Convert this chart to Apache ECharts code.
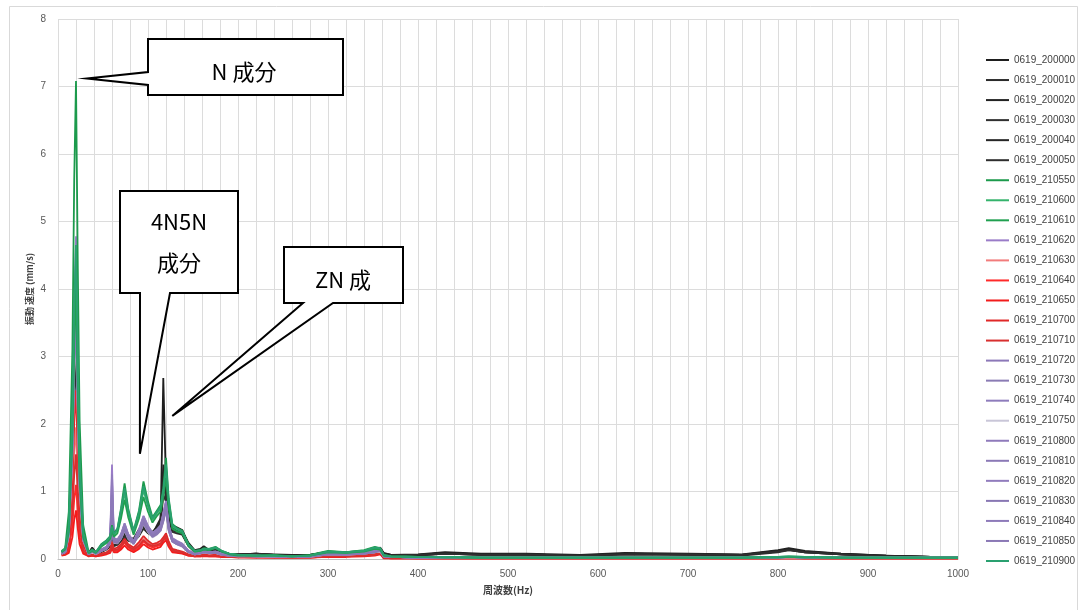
<!DOCTYPE html>
<html>
<head>
<meta charset="utf-8">
<script src="https://cdn.jsdelivr.net/npm/echarts@6/dist/echarts.min.js"></script>
<style>
html,body{margin:0;padding:0;background:#fff;}
#chart{width:1082px;height:610px;}
</style>
</head>
<body>
<div id="chart"></div>
<script>
// Frequency sample points (Hz) shared by every spectrum
const freqHz = [
  4, 8, 12, 16, 18, 20, 22, 24, 28, 34,
  38, 42, 48, 54, 58, 60, 62, 66, 70, 74,
  78, 84, 90, 95, 100, 105, 110, 114, 117, 120,
  123, 127, 132, 138, 145, 152, 158, 162, 168, 175,
  182, 190, 200, 220, 240, 260, 280, 300, 320, 340,
  352, 358, 362, 370, 400, 430, 470, 520, 580, 630,
  700, 760, 800, 812, 830, 870, 920, 970, 1000
];

// Vibration velocity (mm/s) for each measurement
const s200000 = [
  0.10,0.13,0.35,1.55,2.76,3.45,2.14,1.04,0.28,0.08,
  0.16,0.09,0.12,0.16,0.20,0.32,0.22,0.25,0.30,0.38,
  0.30,0.28,0.40,0.52,0.42,0.38,0.45,0.55,2.68,1.10,
  0.55,0.45,0.42,0.38,0.22,0.12,0.14,0.18,0.12,0.14,
  0.10,0.08,0.07,0.08,0.06,0.05,0.06,0.10,0.09,0.11,
  0.13,0.16,0.08,0.06,0.06,0.09,0.07,0.07,0.05,0.08,
  0.07,0.06,0.12,0.15,0.11,0.08,0.05,0.03,0.03];
const s200010 = [
  0.09,0.12,0.32,1.44,2.56,3.20,1.98,0.96,0.26,0.07,
  0.14,0.08,0.11,0.15,0.22,0.35,0.20,0.22,0.28,0.34,
  0.28,0.26,0.36,0.48,0.40,0.36,0.50,0.60,1.25,0.95,
  0.60,0.48,0.44,0.40,0.20,0.11,0.13,0.17,0.11,0.13,
  0.09,0.07,0.06,0.07,0.05,0.05,0.05,0.09,0.08,0.10,
  0.12,0.15,0.07,0.05,0.05,0.08,0.06,0.06,0.05,0.07,
  0.06,0.06,0.11,0.14,0.10,0.07,0.04,0.03,0.03];
const s200020 = [
  0.11,0.14,0.36,1.62,2.88,3.60,2.23,1.08,0.29,0.09,
  0.17,0.10,0.13,0.17,0.24,0.40,0.24,0.27,0.33,0.42,
  0.33,0.30,0.44,0.56,0.45,0.40,0.48,0.52,1.05,1.20,
  0.58,0.44,0.46,0.42,0.24,0.13,0.15,0.19,0.13,0.15,
  0.11,0.08,0.07,0.08,0.07,0.06,0.06,0.11,0.10,0.12,
  0.14,0.17,0.09,0.06,0.07,0.10,0.08,0.08,0.06,0.09,
  0.08,0.07,0.13,0.16,0.12,0.08,0.05,0.03,0.03];
const s200030 = [
  0.08,0.11,0.30,1.33,2.36,2.95,1.83,0.89,0.24,0.07,
  0.13,0.08,0.10,0.14,0.18,0.28,0.19,0.21,0.26,0.31,
  0.27,0.25,0.34,0.45,0.38,0.34,0.42,0.50,0.95,0.85,
  0.50,0.40,0.38,0.36,0.19,0.10,0.12,0.16,0.10,0.12,
  0.09,0.07,0.06,0.07,0.05,0.04,0.05,0.09,0.08,0.10,
  0.12,0.14,0.07,0.05,0.05,0.08,0.06,0.06,0.04,0.07,
  0.06,0.05,0.10,0.13,0.10,0.07,0.04,0.03,0.02];
const s200040 = [
  0.10,0.13,0.33,1.49,2.64,3.30,2.05,0.99,0.26,0.08,
  0.15,0.09,0.12,0.16,0.21,0.34,0.21,0.24,0.29,0.36,
  0.29,0.27,0.38,0.50,0.41,0.37,0.46,0.58,1.40,1.00,
  0.62,0.50,0.47,0.43,0.21,0.12,0.14,0.17,0.12,0.13,
  0.10,0.08,0.07,0.07,0.06,0.05,0.06,0.10,0.09,0.11,
  0.13,0.15,0.08,0.06,0.06,0.09,0.07,0.07,0.05,0.08,
  0.07,0.06,0.12,0.14,0.11,0.07,0.05,0.03,0.03];
const s200050 = [
  0.09,0.12,0.32,1.42,2.52,3.15,1.95,0.95,0.25,0.08,
  0.15,0.09,0.11,0.15,0.20,0.30,0.21,0.23,0.28,0.35,
  0.28,0.27,0.37,0.47,0.39,0.35,0.44,0.54,1.15,0.90,
  0.52,0.42,0.40,0.37,0.20,0.11,0.13,0.16,0.11,0.13,
  0.09,0.07,0.06,0.08,0.06,0.05,0.05,0.10,0.09,0.10,
  0.12,0.15,0.07,0.05,0.06,0.08,0.06,0.07,0.05,0.07,
  0.07,0.06,0.11,0.13,0.10,0.07,0.04,0.03,0.03];
const s210550 = [
  0.12,0.16,0.70,3.10,5.60,7.08,4.30,2.05,0.50,0.10,
  0.14,0.10,0.22,0.28,0.34,0.50,0.38,0.45,0.75,1.12,
  0.75,0.42,0.72,1.15,0.85,0.62,0.72,0.80,1.05,1.50,
  0.90,0.52,0.46,0.42,0.22,0.12,0.13,0.16,0.15,0.18,
  0.12,0.08,0.06,0.05,0.06,0.04,0.06,0.12,0.10,0.13,
  0.18,0.16,0.06,0.04,0.03,0.03,0.02,0.02,0.02,0.02,
  0.02,0.02,0.03,0.04,0.03,0.02,0.02,0.02,0.02];
const s210600 = [
  0.11,0.15,0.44,1.98,3.52,4.40,2.73,1.32,0.35,0.09,
  0.13,0.10,0.20,0.26,0.32,0.46,0.36,0.42,0.68,0.98,
  0.68,0.40,0.66,1.02,0.78,0.58,0.68,0.74,0.98,1.32,
  0.82,0.48,0.44,0.40,0.20,0.11,0.12,0.15,0.14,0.17,
  0.11,0.08,0.06,0.05,0.05,0.04,0.05,0.11,0.09,0.12,
  0.17,0.15,0.05,0.04,0.03,0.03,0.02,0.02,0.02,0.02,
  0.02,0.02,0.03,0.03,0.03,0.02,0.02,0.02,0.02];
const s210610 = [
  0.10,0.14,0.40,1.80,3.20,4.00,2.48,1.20,0.32,0.09,
  0.12,0.09,0.18,0.24,0.30,0.42,0.33,0.38,0.60,0.88,
  0.62,0.36,0.60,0.92,0.70,0.54,0.64,0.70,0.92,1.20,
  0.75,0.45,0.41,0.38,0.19,0.11,0.12,0.14,0.13,0.16,
  0.11,0.07,0.05,0.05,0.05,0.04,0.05,0.10,0.09,0.11,
  0.15,0.14,0.05,0.04,0.03,0.02,0.02,0.02,0.02,0.02,
  0.02,0.02,0.02,0.03,0.02,0.02,0.02,0.02,0.02];
const s210620 = [
  0.09,0.12,0.48,2.15,3.82,4.78,2.96,1.43,0.38,0.08,
  0.12,0.08,0.14,0.18,0.30,1.40,0.30,0.28,0.36,0.50,
  0.36,0.26,0.42,0.62,0.48,0.38,0.42,0.48,0.66,0.85,
  0.50,0.30,0.26,0.22,0.12,0.08,0.10,0.12,0.10,0.11,
  0.08,0.06,0.05,0.05,0.04,0.03,0.04,0.08,0.07,0.09,
  0.12,0.13,0.04,0.03,0.02,0.02,0.02,0.02,0.02,0.02,
  0.02,0.02,0.02,0.03,0.02,0.02,0.02,0.02,0.02];
const s210630 = [
  0.07,0.08,0.20,0.88,1.56,1.95,1.21,0.59,0.16,0.05,
  0.06,0.05,0.07,0.09,0.12,0.24,0.14,0.15,0.20,0.28,
  0.20,0.15,0.22,0.30,0.24,0.20,0.22,0.24,0.30,0.36,
  0.24,0.14,0.12,0.10,0.06,0.05,0.05,0.06,0.05,0.05,
  0.04,0.04,0.03,0.03,0.03,0.02,0.03,0.05,0.05,0.06,
  0.07,0.10,0.02,0.02,0.01,0.01,0.01,0.01,0.01,0.01,
  0.01,0.01,0.01,0.02,0.01,0.01,0.01,0.01,0.01];
const s210640 = [
  0.06,0.07,0.12,0.50,0.88,1.10,0.68,0.33,0.10,0.04,
  0.05,0.04,0.06,0.08,0.10,0.20,0.12,0.12,0.17,0.24,
  0.17,0.12,0.18,0.26,0.20,0.17,0.19,0.21,0.27,0.32,
  0.21,0.12,0.10,0.09,0.05,0.04,0.04,0.05,0.04,0.04,
  0.03,0.03,0.03,0.02,0.02,0.02,0.02,0.04,0.04,0.05,
  0.06,0.08,0.02,0.01,0.01,0.01,0.01,0.01,0.01,0.01,
  0.01,0.01,0.01,0.01,0.01,0.01,0.01,0.01,0.01];
const s210650 = [
  0.05,0.06,0.09,0.32,0.58,0.72,0.45,0.22,0.08,0.04,
  0.05,0.04,0.05,0.07,0.09,0.16,0.10,0.10,0.14,0.20,
  0.14,0.10,0.15,0.22,0.17,0.14,0.16,0.18,0.24,0.28,
  0.18,0.10,0.09,0.08,0.05,0.04,0.04,0.04,0.04,0.04,
  0.03,0.03,0.02,0.02,0.02,0.02,0.02,0.03,0.03,0.04,
  0.05,0.07,0.01,0.01,0.01,0.01,0.01,0.01,0.01,0.01,
  0.01,0.01,0.01,0.01,0.01,0.01,0.01,0.01,0.01];
const s210700 = [
  0.07,0.09,0.25,1.13,2.00,2.50,1.55,0.75,0.20,0.05,
  0.07,0.05,0.08,0.10,0.14,0.26,0.15,0.17,0.22,0.30,
  0.22,0.17,0.25,0.34,0.27,0.22,0.24,0.27,0.32,0.38,
  0.26,0.15,0.13,0.11,0.07,0.05,0.06,0.07,0.06,0.06,
  0.05,0.04,0.04,0.03,0.03,0.03,0.03,0.05,0.05,0.06,
  0.08,0.10,0.02,0.02,0.01,0.01,0.01,0.01,0.01,0.01,
  0.01,0.01,0.01,0.02,0.01,0.01,0.01,0.01,0.01];
const s210710 = [
  0.06,0.08,0.16,0.70,1.24,1.55,0.96,0.47,0.13,0.05,
  0.06,0.05,0.07,0.09,0.11,0.22,0.13,0.14,0.19,0.26,
  0.19,0.14,0.20,0.28,0.22,0.19,0.21,0.23,0.28,0.34,
  0.22,0.13,0.11,0.10,0.06,0.04,0.05,0.05,0.05,0.05,
  0.04,0.03,0.03,0.03,0.02,0.02,0.02,0.04,0.04,0.05,
  0.06,0.09,0.02,0.01,0.01,0.01,0.01,0.01,0.01,0.01,
  0.01,0.01,0.01,0.01,0.01,0.01,0.01,0.01,0.01];
const s210720 = [
  0.09,0.11,0.41,1.85,3.28,4.10,2.54,1.23,0.33,0.08,
  0.12,0.08,0.13,0.17,0.26,0.90,0.28,0.26,0.34,0.48,
  0.34,0.24,0.40,0.58,0.45,0.36,0.40,0.46,0.62,0.80,
  0.46,0.28,0.24,0.20,0.11,0.08,0.09,0.11,0.09,0.10,
  0.07,0.06,0.05,0.04,0.04,0.03,0.04,0.08,0.07,0.09,
  0.11,0.12,0.04,0.03,0.02,0.02,0.02,0.02,0.02,0.02,
  0.02,0.02,0.02,0.03,0.02,0.02,0.02,0.02,0.02];
const s210730 = [
  0.08,0.10,0.38,1.71,3.04,3.80,2.36,1.14,0.30,0.07,
  0.11,0.08,0.12,0.16,0.25,0.80,0.26,0.25,0.32,0.45,
  0.32,0.23,0.38,0.55,0.43,0.34,0.38,0.44,0.58,0.76,
  0.44,0.27,0.23,0.19,0.10,0.07,0.09,0.10,0.09,0.10,
  0.07,0.05,0.05,0.04,0.04,0.03,0.04,0.07,0.07,0.08,
  0.10,0.12,0.04,0.03,0.02,0.02,0.02,0.02,0.02,0.02,
  0.02,0.02,0.02,0.03,0.02,0.02,0.02,0.02,0.02];
const s210740 = [
  0.09,0.11,0.40,1.78,3.16,3.95,2.45,1.19,0.32,0.08,
  0.12,0.08,0.13,0.17,0.27,1.05,0.29,0.27,0.35,0.50,
  0.35,0.25,0.41,0.60,0.46,0.37,0.41,0.47,0.64,0.82,
  0.47,0.29,0.25,0.21,0.11,0.08,0.10,0.11,0.10,0.10,
  0.07,0.06,0.05,0.05,0.04,0.03,0.04,0.08,0.07,0.09,
  0.11,0.13,0.04,0.03,0.02,0.02,0.02,0.02,0.02,0.02,
  0.02,0.02,0.02,0.03,0.02,0.02,0.02,0.02,0.02];
const s210750 = [
  0.08,0.10,0.34,1.53,2.72,3.40,2.11,1.02,0.27,0.07,
  0.10,0.07,0.12,0.15,0.23,0.70,0.24,0.23,0.30,0.42,
  0.30,0.22,0.36,0.52,0.40,0.32,0.36,0.42,0.55,0.72,
  0.42,0.26,0.22,0.18,0.10,0.07,0.08,0.10,0.08,0.09,
  0.06,0.05,0.04,0.04,0.03,0.03,0.03,0.07,0.06,0.08,
  0.10,0.11,0.04,0.03,0.02,0.02,0.02,0.02,0.02,0.02,
  0.02,0.02,0.02,0.02,0.02,0.02,0.02,0.02,0.02];
const s210800 = [
  0.09,0.11,0.43,1.91,3.40,4.25,2.64,1.28,0.34,0.08,
  0.12,0.09,0.14,0.18,0.28,1.15,0.30,0.28,0.36,0.52,
  0.36,0.26,0.43,0.63,0.48,0.38,0.43,0.49,0.67,0.84,
  0.49,0.30,0.26,0.22,0.12,0.08,0.10,0.12,0.10,0.11,
  0.08,0.06,0.05,0.05,0.04,0.03,0.04,0.08,0.08,0.09,
  0.12,0.13,0.04,0.03,0.02,0.02,0.02,0.02,0.02,0.02,
  0.02,0.02,0.02,0.03,0.02,0.02,0.02,0.02,0.02];
const s210810 = [
  0.08,0.10,0.37,1.64,2.92,3.65,2.26,1.10,0.29,0.07,
  0.11,0.08,0.12,0.16,0.24,0.75,0.25,0.24,0.31,0.44,
  0.31,0.23,0.37,0.54,0.42,0.33,0.37,0.43,0.57,0.74,
  0.43,0.26,0.22,0.19,0.10,0.07,0.09,0.10,0.09,0.09,
  0.07,0.05,0.05,0.04,0.04,0.03,0.04,0.07,0.07,0.08,
  0.10,0.12,0.04,0.03,0.02,0.02,0.02,0.02,0.02,0.02,
  0.02,0.02,0.02,0.03,0.02,0.02,0.02,0.02,0.02];
const s210820 = [
  0.09,0.12,0.44,1.98,3.52,4.40,2.73,1.32,0.35,0.08,
  0.12,0.09,0.14,0.18,0.29,1.25,0.31,0.29,0.37,0.53,
  0.37,0.27,0.44,0.64,0.49,0.39,0.44,0.50,0.68,0.86,
  0.50,0.31,0.27,0.23,0.12,0.09,0.10,0.12,0.10,0.11,
  0.08,0.06,0.05,0.05,0.04,0.04,0.04,0.08,0.08,0.10,
  0.12,0.13,0.04,0.03,0.02,0.02,0.02,0.02,0.02,0.02,
  0.02,0.02,0.02,0.03,0.02,0.02,0.02,0.02,0.02];
const s210830 = [
  0.08,0.10,0.37,1.67,2.96,3.70,2.29,1.11,0.30,0.07,
  0.11,0.08,0.12,0.16,0.25,0.85,0.27,0.25,0.33,0.46,
  0.33,0.24,0.39,0.56,0.44,0.35,0.39,0.45,0.60,0.78,
  0.45,0.27,0.23,0.20,0.11,0.07,0.09,0.11,0.09,0.10,
  0.07,0.05,0.05,0.04,0.04,0.03,0.04,0.07,0.07,0.08,
  0.11,0.12,0.04,0.03,0.02,0.02,0.02,0.02,0.02,0.02,
  0.02,0.02,0.02,0.03,0.02,0.02,0.02,0.02,0.02];
const s210840 = [
  0.09,0.11,0.40,1.80,3.20,4.00,2.48,1.20,0.32,0.08,
  0.12,0.08,0.13,0.17,0.27,0.95,0.28,0.27,0.35,0.49,
  0.35,0.25,0.41,0.59,0.46,0.37,0.41,0.47,0.63,0.81,
  0.47,0.29,0.25,0.21,0.11,0.08,0.09,0.11,0.10,0.10,
  0.07,0.06,0.05,0.05,0.04,0.03,0.04,0.08,0.07,0.09,
  0.11,0.13,0.04,0.03,0.02,0.02,0.02,0.02,0.02,0.02,
  0.02,0.02,0.02,0.03,0.02,0.02,0.02,0.02,0.02];
const s210850 = [
  0.08,0.10,0.36,1.60,2.84,3.55,2.20,1.07,0.28,0.07,
  0.11,0.08,0.12,0.15,0.24,0.72,0.25,0.24,0.31,0.43,
  0.31,0.22,0.37,0.53,0.41,0.33,0.37,0.42,0.56,0.73,
  0.42,0.26,0.22,0.19,0.10,0.07,0.08,0.10,0.09,0.09,
  0.06,0.05,0.04,0.04,0.04,0.03,0.03,0.07,0.06,0.08,
  0.10,0.12,0.04,0.03,0.02,0.02,0.02,0.02,0.02,0.02,
  0.02,0.02,0.02,0.03,0.02,0.02,0.02,0.02,0.02];
const s210900 = [
  0.11,0.15,0.47,2.09,3.72,4.65,2.88,1.40,0.37,0.10,
  0.13,0.10,0.21,0.27,0.33,0.48,0.37,0.44,0.72,1.05,
  0.72,0.41,0.69,1.08,0.80,0.60,0.70,0.77,1.00,1.40,
  0.86,0.50,0.45,0.41,0.21,0.12,0.13,0.15,0.15,0.17,
  0.12,0.08,0.06,0.05,0.05,0.04,0.05,0.11,0.10,0.12,
  0.17,0.16,0.06,0.04,0.03,0.03,0.02,0.02,0.02,0.02,
  0.02,0.02,0.03,0.04,0.03,0.02,0.02,0.02,0.02];

const seriesNames = [
  '0619_200000','0619_200010','0619_200020','0619_200030','0619_200040','0619_200050',
  '0619_210550','0619_210600','0619_210610','0619_210620','0619_210630','0619_210640',
  '0619_210650','0619_210700','0619_210710','0619_210720','0619_210730','0619_210740',
  '0619_210750','0619_210800','0619_210810','0619_210820','0619_210830','0619_210840',
  '0619_210850','0619_210900'
];

const seriesValues = [
  s200000, s200010, s200020, s200030, s200040, s200050,
  s210550, s210600, s210610, s210620, s210630, s210640,
  s210650, s210700, s210710, s210720, s210730, s210740,
  s210750, s210800, s210810, s210820, s210830, s210840,
  s210850, s210900
];

const seriesColors = [
  '#1e1e1e','#2a2a2a','#222222','#303030','#262626','#2e2e2e',
  '#1c9a4c','#35b36c','#20a050','#9a7cc8','#f27c7c','#ff2a2a',
  '#f21c1c','#e02828','#d83030','#8c78b8','#8a7bb4','#8e7cbc',
  '#c9c6d8','#8f7abb','#8b79b6','#917cbd','#8877b3','#8d7ab9',
  '#8a78b5','#2aa070'
];

// Green traces sit on top of the bundle, the rest below
const seriesLayer = [
  2,2,2,2,2,2,
  4,4,4,2,2,2,
  2,2,2,2,2,2,
  2,2,2,2,2,2,
  2,4
];

const tickFont = 'Liberation Sans';

const chart = echarts.init(document.getElementById('chart'), null, { renderer: 'canvas' });

const series = seriesNames.map(function (name, i) {
  return {
    name: name,
    type: 'line',
    symbol: 'none',
    animation: false,
    z: seriesLayer[i],
    data: freqHz.map(function (f, k) { return [f, seriesValues[i][k]]; }),
    lineStyle: { width: 1.8, color: seriesColors[i] },
    itemStyle: { color: seriesColors[i] }
  };
});

chart.setOption({
  backgroundColor: '#ffffff',
  animation: false,
  grid: { left: 58, right: 124, top: 19, bottom: 51, containLabel: false },
  legend: {
    orient: 'vertical',
    left: 986,
    top: 54,
    padding: 0,
    icon: 'rect',
    itemWidth: 23,
    itemHeight: 2,
    itemGap: 8.04,
    selectedMode: false,
    textStyle: { fontSize: 10, color: '#404040', fontFamily: tickFont, lineHeight: 12 },
    data: seriesNames
  },
  xAxis: {
    type: 'value',
    min: 0,
    max: 1000,
    interval: 20,
    name: '周波数(Hz)',
    nameLocation: 'middle',
    nameGap: 26,
    nameMoveOverlap: false,
    nameTextStyle: { fontSize: 10, fontWeight: 'bold', color: '#404040', fontFamily: 'Noto Sans CJK JP' },
    axisLine: { show: true, lineStyle: { color: '#bfbfbf', width: 1 } },
    axisTick: { show: false },
    axisLabel: {
      fontSize: 10, color: '#595959', fontFamily: tickFont, margin: 10,
      formatter: function (v) { return v % 100 === 0 ? String(v) : ''; }
    },
    splitLine: { show: true, lineStyle: { color: '#dcdcdc', width: 1 } }
  },
  yAxis: {
    type: 'value',
    min: 0,
    max: 8,
    interval: 1,
    name: '振動 速度 (mm/s)',
    nameLocation: 'middle',
    nameGap: 24,
    nameMoveOverlap: false,
    nameTextStyle: { fontSize: 9, fontWeight: 'bold', color: '#404040', fontFamily: 'Noto Sans CJK JP' },
    axisLine: { show: false },
    axisTick: { show: false },
    axisLabel: { fontSize: 10, color: '#595959', fontFamily: tickFont, margin: 12 },
    splitLine: { show: true, lineStyle: { color: '#dcdcdc', width: 1 } }
  },
  series: series
});

// Callout boxes pointing at the characteristic frequency components
const tipN = chart.convertToPixel({ gridIndex: 0 }, [32, 7.12]);
const tip45 = chart.convertToPixel({ gridIndex: 0 }, [91, 1.56]);
const tipZ = chart.convertToPixel({ gridIndex: 0 }, [127, 2.12]);

const calloutStyle = { fill: '#ffffff', stroke: '#000000', lineWidth: 2, lineJoin: 'miter' };
const calloutFont = '22px "Noto Sans CJK JP", "Noto Sans"';

chart.setOption({
  graphic: [
    {
      type: 'rect', silent: true, z: 0,
      shape: { x: 9.5, y: 6.5, width: 1068, height: 620 },
      style: { fill: 'none', stroke: '#d9d9d9', lineWidth: 1 }
    },
    {
      type: 'polygon', silent: true, z: 100,
      shape: { points: [[148, 39], [343, 39], [343, 95], [148, 95], [148, 85], tipN, [148, 72]] },
      style: calloutStyle
    },
    {
      type: 'text', silent: true, z: 101,
      style: { text: 'N 成分', x: 244, y: 72, font: calloutFont, fill: '#000', textAlign: 'center', textVerticalAlign: 'middle' }
    },
    {
      type: 'polygon', silent: true, z: 100,
      shape: { points: [[120, 191], [238, 191], [238, 293], [170, 293], tip45, [140, 293], [120, 293]] },
      style: calloutStyle
    },
    {
      type: 'text', silent: true, z: 101,
      style: { text: '4N5N', x: 179, y: 222, font: calloutFont, fill: '#000', textAlign: 'center', textVerticalAlign: 'middle' }
    },
    {
      type: 'text', silent: true, z: 101,
      style: { text: '成分', x: 179, y: 263, font: calloutFont, fill: '#000', textAlign: 'center', textVerticalAlign: 'middle' }
    },
    {
      type: 'polygon', silent: true, z: 100,
      shape: { points: [[284, 247], [403, 247], [403, 303], [333, 303], tipZ, [303, 303], [284, 303]] },
      style: calloutStyle
    },
    {
      type: 'text', silent: true, z: 101,
      style: { text: 'ZN 成', x: 343, y: 280, font: calloutFont, fill: '#000', textAlign: 'center', textVerticalAlign: 'middle' }
    }
  ]
});
</script>
</body>
</html>
